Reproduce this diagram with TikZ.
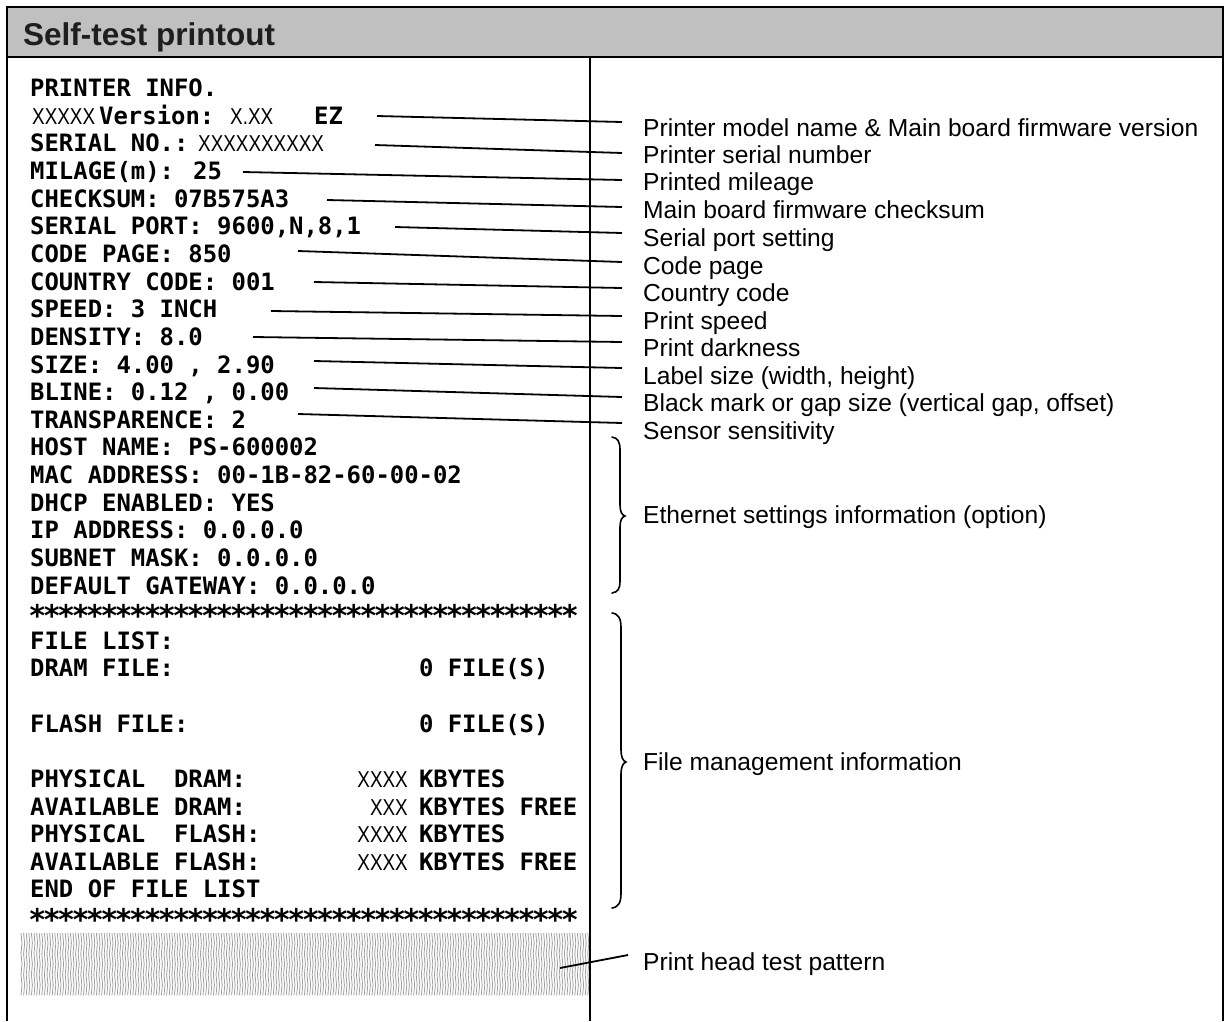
\documentclass[tikz,border=0pt]{standalone}
\usepackage{fontspec}
\setmainfont{Liberation Sans}
\newfontfamily\prtfont{DejaVu Sans Mono}
\definecolor{headgray}{HTML}{C0C0C0}
\definecolor{titlecol}{HTML}{1E1E1E}
\newcommand\mystar{\makebox[0.602em]{\raisebox{-4.5pt}{\scalebox{1.25}{*}}}}
\newcommand\tenstars{\mystar\mystar\mystar\mystar\mystar\mystar\mystar\mystar\mystar\mystar}
\newcommand\starline{\tenstars\tenstars\tenstars\mystar\mystar\mystar\mystar\mystar\mystar\mystar\mystar}
\newcommand\tx[1]{\scalebox{0.82}[1]{#1}}
\tikzset{
  prt/.style={anchor=base west, inner sep=0pt, font=\prtfont\bfseries\fontsize{23.9}{24}\selectfont},
  thinx/.style={anchor=base west, inner sep=0pt, font=\fontsize{23}{24}\selectfont},
  thinxr/.style={thinx, anchor=base east},
  lab/.style={anchor=base west, inner sep=0pt, font=\fontsize{24.6}{26}\selectfont},
  leader/.style={line width=1.8pt},
  framel/.style={line width=2.5pt},
  divl/.style={line width=2pt},
  bracel/.style={line width=1.6pt, line cap=round},
  patl/.style={line width=0.8pt, gray!75},
}
\begin{document}
\begin{tikzpicture}[x=1pt,y=-1pt]
\useasboundingbox (0,0) rectangle (1227,1021);
% header
\fill[headgray] (7,7) rectangle (1223,57);
\node[anchor=base west, inner sep=0pt, text=titlecol, font=\bfseries\fontsize{31.5}{32}\selectfont] (title) at (23,45.3) {Self-test printout};

% test pattern
\foreach \x in {21,23.6,...,588}
  \draw[patl] (\x,933) -- ++(1,10.4) -- ++(-1,10.4) -- ++(1,10.4) -- ++(-1,10.4) -- ++(1,10.4) -- ++(-1,10.4);

% frame
\draw[framel] (7,1021) -- (7,7) -- (1223,7) -- (1223,1021);
\draw[framel] (7,57) -- (1223,57);
\draw[divl] (590,57) -- (590,1021);

% printout
\node[prt] (r0) at (30,{96.7+27.63*0}) {PRINTER INFO.};
\node[thinx] (r1a) at (32,{96.7+27.63*1}) {\tx{XXXXX}};
\node[prt] (r1b) at (99,{96.7+27.63*1}) {Version:};
\node[thinx] (r1c) at (230,{96.7+27.63*1}) {\tx{X.XX}};
\node[prt] (r1d) at (314,{96.7+27.63*1}) {EZ};
\node[prt] (r2a) at (30,{96.7+27.63*2}) {SERIAL NO.:};
\node[thinx] (r2b) at (198,{96.7+27.63*2}) {\tx{XXXXXXXXXX}};
\node[prt] (r3) at (30,{96.7+27.63*3}) {MILAGE(m): 25};
\node[prt] (r4) at (30,{96.7+27.63*4}) {CHECKSUM: 07B575A3};
\node[prt] (r5) at (30,{96.7+27.63*5}) {SERIAL PORT: 9600,N,8,1};
\node[prt] (r6) at (30,{96.7+27.63*6}) {CODE PAGE: 850};
\node[prt] (r7) at (30,{96.7+27.63*7}) {COUNTRY CODE: 001};
\node[prt] (r8) at (30,{96.7+27.63*8}) {SPEED: 3 INCH};
\node[prt] (r9) at (30,{96.7+27.63*9}) {DENSITY: 8.0};
\node[prt] (r10) at (30,{96.7+27.63*10}) {SIZE: 4.00 , 2.90};
\node[prt] (r11) at (30,{96.7+27.63*11}) {BLINE: 0.12 , 0.00};
\node[prt] (r12) at (30,{96.7+27.63*12}) {TRANSPARENCE: 2};
\node[prt] (r13) at (30,{96.7+27.63*13}) {HOST NAME: PS-600002};
\node[prt] (r14) at (30,{96.7+27.63*14}) {MAC ADDRESS: 00-1B-82-60-00-02};
\node[prt] (r15) at (30,{96.7+27.63*15}) {DHCP ENABLED: YES};
\node[prt] (r16) at (30,{96.7+27.63*16}) {IP ADDRESS: 0.0.0.0};
\node[prt] (r17) at (30,{96.7+27.63*17}) {SUBNET MASK: 0.0.0.0};
\node[prt] (r18) at (30,{96.7+27.63*18}) {DEFAULT GATEWAY: 0.0.0.0};
\node[prt] (r19) at (30,{96.7+27.63*19}) {\starline};
\node[prt] (r20) at (30,{96.7+27.63*20}) {FILE LIST:};
\node[prt] (r21a) at (30,{96.7+27.63*21}) {DRAM FILE:};
\node[prt] (r21b) at (418.8,{96.7+27.63*21}) {0 FILE(S)};
\node[prt] (r23a) at (30,{96.7+27.63*23}) {FLASH FILE:};
\node[prt] (r23b) at (418.8,{96.7+27.63*23}) {0 FILE(S)};
\node[prt] (r25a) at (30,{96.7+27.63*25}) {PHYSICAL\ \ DRAM:};
\node[thinxr] (r25b) at (408,{96.7+27.63*25}) {\tx{XXXX}};
\node[prt] (r25c) at (418.8,{96.7+27.63*25}) {KBYTES};
\node[prt] (r26a) at (30,{96.7+27.63*26}) {AVAILABLE DRAM:};
\node[thinxr] (r26b) at (408,{96.7+27.63*26}) {\tx{XXX}};
\node[prt] (r26c) at (418.8,{96.7+27.63*26}) {KBYTES FREE};
\node[prt] (r27a) at (30,{96.7+27.63*27}) {PHYSICAL\ \ FLASH:};
\node[thinxr] (r27b) at (408,{96.7+27.63*27}) {\tx{XXXX}};
\node[prt] (r27c) at (418.8,{96.7+27.63*27}) {KBYTES};
\node[prt] (r28a) at (30,{96.7+27.63*28}) {AVAILABLE FLASH:};
\node[thinxr] (r28b) at (408,{96.7+27.63*28}) {\tx{XXXX}};
\node[prt] (r28c) at (418.8,{96.7+27.63*28}) {KBYTES FREE};
\node[prt] (r29) at (30,{96.7+27.63*29}) {END OF FILE LIST};
\node[prt] (r30) at (30,{96.7+27.63*30}) {\starline};

% labels
\node[lab] (l1) at (643,136.8) {Printer model name \& Main board firmware version};
\node[lab] (l2) at (643,163.8) {Printer serial number};
\node[lab] (l3) at (643,190.8) {Printed mileage};
\node[lab] (l4) at (643,218.8) {Main board firmware checksum};
\node[lab] (l5) at (643,246.8) {Serial port setting};
\node[lab] (l6) at (643,274.3) {Code page};
\node[lab] (l7) at (643,301.8) {Country code};
\node[lab] (l8) at (643,329.8) {Print speed};
\node[lab] (l9) at (643,356.8) {Print darkness};
\node[lab] (l10) at (643,384.8) {Label size (width, height)};
\node[lab] (l11) at (643,411.8) {Black mark or gap size (vertical gap, offset)};
\node[lab] (l12) at (643,439.3) {Sensor sensitivity};
\node[lab] (leth) at (643,523.8) {Ethernet settings information (option)};
\node[lab] (lfile) at (643,770.8) {File management information};
\node[lab] (lpat) at (643,970.8) {Print head test pattern};

% leader coordinates
\coordinate (s1) at (377,116);  \coordinate (e1) at (622,122);
\coordinate (s2) at (375,145);  \coordinate (e2) at (622,153);
\coordinate (s3) at (243,172);  \coordinate (e3) at (622,180);
\coordinate (s4) at (327,200);  \coordinate (e4) at (622,207);
\coordinate (s5) at (395,227);  \coordinate (e5) at (622,233);
\coordinate (s6) at (298,251);  \coordinate (e6) at (622,262);
\coordinate (s7) at (314,282);  \coordinate (e7) at (622,288);
\coordinate (s8) at (271,311);  \coordinate (e8) at (622,316);
\coordinate (s9) at (253,337);  \coordinate (e9) at (622,342);
\coordinate (s10) at (314,361); \coordinate (e10) at (622,368);
\coordinate (s11) at (314,388); \coordinate (e11) at (622,397);
\coordinate (s12) at (298,414); \coordinate (e12) at (622,423);
\coordinate (sp) at (560,968);  \coordinate (ep) at (628,955);
\foreach \i in {1,...,12} \draw[leader] (s\i) -- (e\i);
\draw[leader] (sp) -- (ep);

% braces
\draw[bracel] (612,437) .. controls (618,438) and (620,442) .. (620,450) -- (620,505)
  .. controls (620,512) and (622,515) .. (625,516) .. controls (622,517) and (620,520) .. (620,527)
  -- (620,581) .. controls (620,589) and (618,592) .. (612,593);
\draw[bracel] (612,613) .. controls (619,614) and (621,619) .. (621,628) -- (621,750)
  .. controls (621,757) and (623,761) .. (626,762) .. controls (623,763) and (621,767) .. (621,774)
  -- (621,893) .. controls (621,902) and (619,907) .. (612,908);
\end{tikzpicture}
\end{document}
